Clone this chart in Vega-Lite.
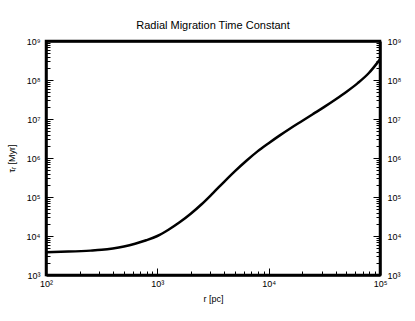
{
  "$schema": "https://vega.github.io/schema/vega-lite/v6.json",
  "width": 334,
  "height": 234,
  "autosize": "none",
  "padding": {"left": 46, "top": 41, "right": 35, "bottom": 46},
  "background": "white",
  "config": {
    "font": "Liberation Sans",
    "view": {"stroke": "black", "strokeWidth": 2.5},
    "axis": {
      "grid": false,
      "domainColor": "black",
      "domainWidth": 2.5,
      "tickColor": "black",
      "tickWidth": 1,
      "labelColor": "black",
      "labelFont": "Liberation Sans",
      "labelFontSize": 9,
      "titleFont": "Liberation Sans",
      "titleFontSize": 9,
      "titleFontWeight": "normal",
      "titleColor": "black",
      "labelOverlap": false,
      "labelFlush": false
    }
  },
  "title": {
    "text": "Radial Migration Time Constant",
    "fontSize": 11,
    "fontWeight": "normal",
    "font": "Liberation Sans",
    "color": "black",
    "anchor": "middle",
    "offset": 6
  },
  "data": {
    "values": [
      {"r": 100, "tau": 3846},
      {"r": 158.5, "tau": 3981},
      {"r": 251.2, "tau": 4217},
      {"r": 316.2, "tau": 4416},
      {"r": 398.1, "tau": 4786},
      {"r": 501.2, "tau": 5370},
      {"r": 631, "tau": 6310},
      {"r": 794.3, "tau": 7762},
      {"r": 1000, "tau": 10000},
      {"r": 1259, "tau": 14454},
      {"r": 1585, "tau": 22387},
      {"r": 1995, "tau": 37154},
      {"r": 2512, "tau": 66069},
      {"r": 3162, "tau": 125893},
      {"r": 3981, "tau": 245471},
      {"r": 5012, "tau": 467735},
      {"r": 6310, "tau": 851138},
      {"r": 7943, "tau": 1479108},
      {"r": 10000, "tau": 2398833},
      {"r": 12589, "tau": 3801894},
      {"r": 15849, "tau": 5888437},
      {"r": 19953, "tau": 8912509},
      {"r": 25119, "tau": 13489629},
      {"r": 31623, "tau": 20417379},
      {"r": 39811, "tau": 31622777},
      {"r": 50119, "tau": 50118723},
      {"r": 63096, "tau": 83176377},
      {"r": 79433, "tau": 151356125},
      {"r": 100000, "tau": 338844156}
    ]
  },
  "layer": [
    {
      "mark": {"type": "line", "color": "black", "strokeWidth": 2.5, "interpolate": "monotone", "clip": true},
      "encoding": {
        "x": {
          "field": "r", "type": "quantitative",
          "scale": {"type": "log", "domain": [100, 100000], "nice": false},
          "axis": {
            "orient": "bottom",
            "title": "r [pc]",
            "tickCount": 20,
            "tickSize": {"condition": {"test": "abs(log(datum.value)/LN10 - round(log(datum.value)/LN10)) < 0.001", "value": -7}, "value": -4},
            "labelPadding": 11,
            "titlePadding": 3,
            "labelExpr": "abs(log(datum.value)/LN10 - round(log(datum.value)/LN10)) < 0.001 ? '10' + ['⁰','¹','²','³','⁴','⁵','⁶','⁷','⁸','⁹'][round(log(datum.value)/LN10)] : ''"
          }
        },
        "y": {
          "field": "tau", "type": "quantitative",
          "scale": {"type": "log", "domain": [1000, 1000000000], "nice": false},
          "axis": {
            "orient": "left",
            "title": "τᵣ [Myr]",
            "tickCount": 40,
            "tickSize": {"condition": {"test": "abs(log(datum.value)/LN10 - round(log(datum.value)/LN10)) < 0.001", "value": -7}, "value": -4},
            "labelPadding": 13,
            "titlePadding": 10,
            "labelExpr": "abs(log(datum.value)/LN10 - round(log(datum.value)/LN10)) < 0.001 ? '10' + ['⁰','¹','²','³','⁴','⁵','⁶','⁷','⁸','⁹'][round(log(datum.value)/LN10)] : ''"
          }
        }
      }
    },
    {
      "mark": {"type": "line", "strokeOpacity": 0},
      "encoding": {
        "x": {
          "field": "r", "type": "quantitative",
          "scale": {"type": "log", "domain": [100, 100000], "nice": false},
          "axis": {"orient": "top", "title": null, "labels": false, "ticks": false}
        },
        "y": {
          "field": "tau", "type": "quantitative",
          "scale": {"type": "log", "domain": [1000, 1000000000], "nice": false},
          "axis": {
            "orient": "right",
            "title": null,
            "tickCount": 40,
            "tickSize": {"condition": {"test": "abs(log(datum.value)/LN10 - round(log(datum.value)/LN10)) < 0.001", "value": -7}, "value": -4},
            "labelPadding": 14,
            "labelExpr": "abs(log(datum.value)/LN10 - round(log(datum.value)/LN10)) < 0.001 ? '10' + ['⁰','¹','²','³','⁴','⁵','⁶','⁷','⁸','⁹'][round(log(datum.value)/LN10)] : ''"
          }
        }
      }
    }
  ],
  "resolve": {"axis": {"x": "independent", "y": "independent"}}
}
